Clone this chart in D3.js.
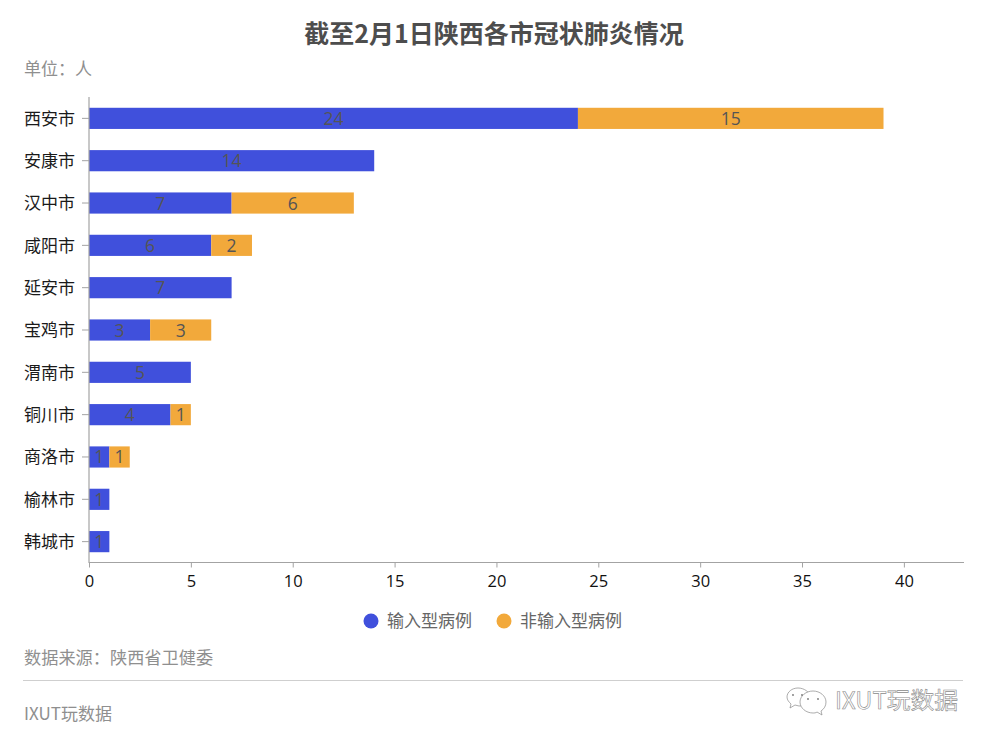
<!DOCTYPE html>
<html><head><meta charset="utf-8">
<script src="https://cdn.jsdelivr.net/npm/d3@7"></script>
<style>
html,body{margin:0;padding:0;background:#fff}
svg{display:block}
text{font-family:"Noto Sans CJK SC","Noto Sans",sans-serif}
.nums{font-family:"Open Sans","Noto Sans",sans-serif}
</style></head><body>
<svg id="c" width="989" height="743"></svg>
<script>
const cities = ["西安市","安康市","汉中市","咸阳市","延安市","宝鸡市","渭南市","铜川市","商洛市","榆林市","韩城市"];
const imported = [24,14,7,6,7,3,5,4,1,1,1];
const nonImported = [15,0,6,2,0,3,0,1,1,0,0];
const seriesNames = ["输入型病例","非输入型病例"];
const seriesColors = ["#4050dc","#f2a93b"];
const xTicks = [0,5,10,15,20,25,30,35,40];
const titleText = "截至2月1日陕西各市冠状肺炎情况";
const unitText = "单位：人";
const sourceText = "数据来源：陕西省卫健委";
const footerText = "IXUT玩数据";

const svg = d3.select("#c");
const x = d3.scaleLinear().domain([0,43]).range([89,965]);
const y = d3.scaleBand().domain(cities).range([97.2,562.8]).paddingInner(0.5).paddingOuter(0.25);

const rows = cities.map((c,i)=>({city:c,v0:imported[i],v1:nonImported[i]}));
const stacked = d3.stack().keys(["v0","v1"])(rows);

stacked.forEach((s,k)=>{
  const g = svg.append("g");
  g.selectAll("rect").data(s.filter(d=>d[1]>d[0])).join("rect")
    .attr("x",d=>x(d[0])).attr("y",d=>y(d.data.city))
    .attr("width",d=>x(d[1])-x(d[0])).attr("height",y.bandwidth())
    .attr("fill",seriesColors[k]);
  g.selectAll("text").data(s.filter(d=>d[1]>d[0])).join("text")
    .attr("class","nums")
    .attr("x",d=>(x(d[0])+x(d[1]))/2).attr("y",d=>y(d.data.city)+y.bandwidth()/2+6.5)
    .attr("text-anchor","middle").attr("font-size",17.5).attr("fill","#555555")
    .text(d=>d[1]-d[0]);
});

// axes
const gx = svg.append("g").attr("transform","translate(0,562.5)")
  .call(d3.axisBottom(x).tickValues(xTicks).tickSize(5).tickPadding(5));
gx.select(".domain").attr("stroke","#a3a3a3").attr("stroke-width",1.2).attr("d","M89,0H964");
gx.selectAll(".tick line").attr("stroke","#a3a3a3");
gx.selectAll(".tick text").attr("class","nums").attr("font-size",16.5).attr("fill","#111")
  .style("font-family",'"Open Sans",sans-serif').attr("dy","0.9em");

const gy = svg.append("g").attr("transform","translate(89,0)")
  .call(d3.axisLeft(y).tickSize(7).tickPadding(7));
gy.select(".domain").attr("stroke","#a3a3a3").attr("stroke-width",1.2).attr("d","M0,97V563");
gy.selectAll(".tick line").attr("stroke","#a3a3a3");
gy.selectAll(".tick text").attr("font-size",17).attr("fill","#1a1a1a").attr("dy","0.38em")
  .style("font-family",'"Noto Sans CJK SC",sans-serif');

// texts
svg.append("text").attr("x",494).attr("y",43).attr("text-anchor","middle")
  .attr("font-size",25).attr("font-weight",700).attr("fill","#4d4d4d").text(titleText);
svg.append("text").attr("x",24).attr("y",75).attr("font-size",17).attr("fill","#8f8f8f").text(unitText);
svg.append("text").attr("x",24).attr("y",664).attr("font-size",17.2).attr("fill","#8f8f8f").text(sourceText);
svg.append("text").attr("x",24).attr("y",720).attr("font-size",17).attr("fill","#8f8f8f").text(footerText);
svg.append("line").attr("x1",23).attr("x2",963).attr("y1",680.5).attr("y2",680.5).attr("stroke","#cfcfcf").attr("stroke-width",1.2);

// legend
const legendX = [371,504];
seriesNames.forEach((n,i)=>{
  svg.append("circle").attr("cx",legendX[i]).attr("cy",621).attr("r",7.5).attr("fill",seriesColors[i]);
  svg.append("text").attr("x",legendX[i]+16).attr("y",627).attr("font-size",17).attr("fill","#666").text(n);
});

// watermark
const wm = svg.append("g").attr("fill","#fff").attr("stroke","#8a8a8a").attr("stroke-width",0.7);
wm.append("path").attr("d","M798,688c-6,0-11,4-11,9c0,3,2,5,4,7l-1,4l5,-3c1,0,3,1,4,1c6,0,11-4,11-9s-6-9-12-9z");
wm.append("path").attr("d","M813,691c-7,0-13,5-13,11s6,11,13,11c1,0,3,0,4-1l5,3l-1-4c3-2,5-5,5-9c0-6-6-11-13-11z");
[[793,695],[802,695],[808,699],[818,699]].forEach(p=>wm.append("circle").attr("cx",p[0]).attr("cy",p[1]).attr("r",0.9).attr("fill","#777").attr("stroke","none"));
svg.append("text").attr("x",835).attr("y",709).attr("font-size",23.8)
  .attr("fill","#fff").attr("stroke","#8a8a8a").attr("stroke-width",0.6)
  .style("font-family",'"Noto Sans CJK SC",sans-serif').style("text-rendering","geometricPrecision").text(footerText);
</script>
</body></html>
